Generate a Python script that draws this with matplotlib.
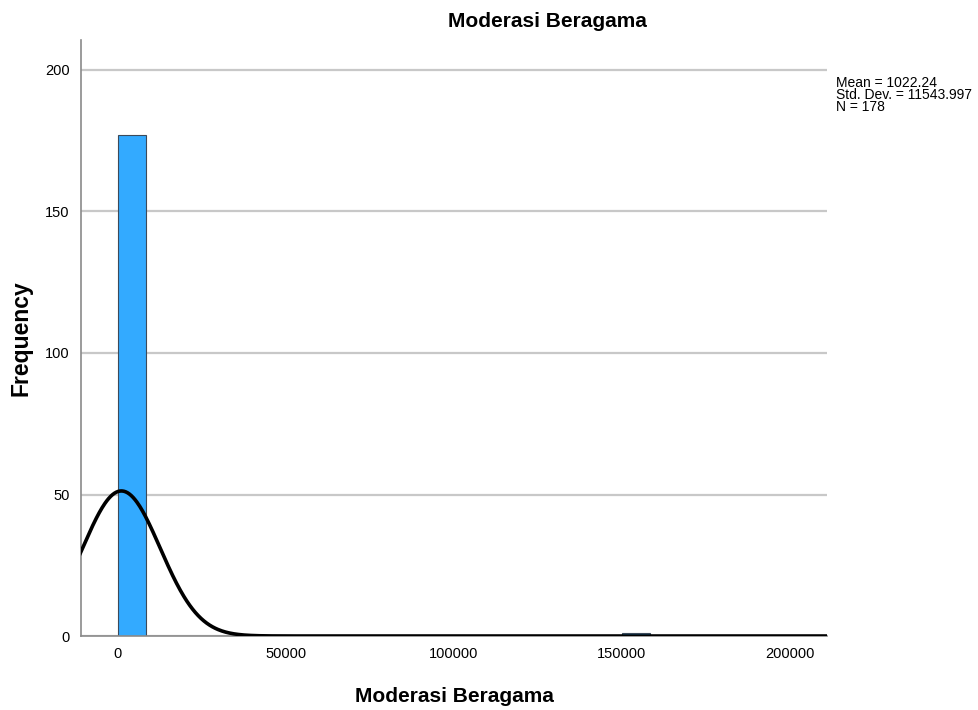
import numpy as np
import matplotlib.pyplot as plt

plt.rcParams['font.family'] = ['Liberation Sans', 'DejaVu Sans']

# histogram bins (left edges) and counts
bin_left = [0, 150000]
counts = [177, 1]
bin_width = 8333

# summary statistics
mean = 1022.24
std = 11543.997
n = 178

x_ticks = [0, 50000, 100000, 150000, 200000]
y_ticks = [0, 50, 100, 150, 200]

fig = plt.figure(figsize=(9.79, 7.10), dpi=100)
ax = fig.add_axes([0.0827, 0.1042, 0.7620, 0.8395])

ax.set_axisbelow(True)
ax.yaxis.grid(True, color='#c8c8c8', linewidth=1.6)

ax.bar(bin_left, counts, width=bin_width, align='edge',
       color='#33aaff', edgecolor='#3c4a5a', linewidth=0.8, zorder=2)

# normal curve scaled to the histogram
xs = np.linspace(-12000, 212000, 800)
ys = n * bin_width / (std * np.sqrt(2 * np.pi)) * np.exp(-0.5 * ((xs - mean) / std) ** 2)
ax.plot(xs, ys, color='black', linewidth=2.6, zorder=3)

ax.set_xlim(-11000, 211000)
ax.set_ylim(0, 210.6)
ax.set_xticks(x_ticks)
ax.set_yticks(y_ticks)
ax.tick_params(length=0, labelsize=10.5, pad=8, colors='black')

for side in ['top', 'right']:
    ax.spines[side].set_visible(False)
for side in ['left', 'bottom']:
    ax.spines[side].set_color('#8a8a8a')
    ax.spines[side].set_linewidth(1.2)

fig.text(0.5587, 0.9704, 'Moderasi Beragama', fontsize=15, fontweight='bold',
         ha='center', va='center')
fig.text(0.4637, 0.0197, 'Moderasi Beragama', fontsize=15, fontweight='bold',
         ha='center', va='center')
fig.text(0.0215, 0.524, 'Frequency', fontsize=16.5, fontweight='bold',
         ha='center', va='center', rotation=90)

fig.text(0.854, 0.893, 'Mean = 1022.24\nStd. Dev. = 11543.997\nN = 178',
         fontsize=10, va='top', ha='left', linespacing=0.8)

fig.savefig('out.png', dpi=100)
